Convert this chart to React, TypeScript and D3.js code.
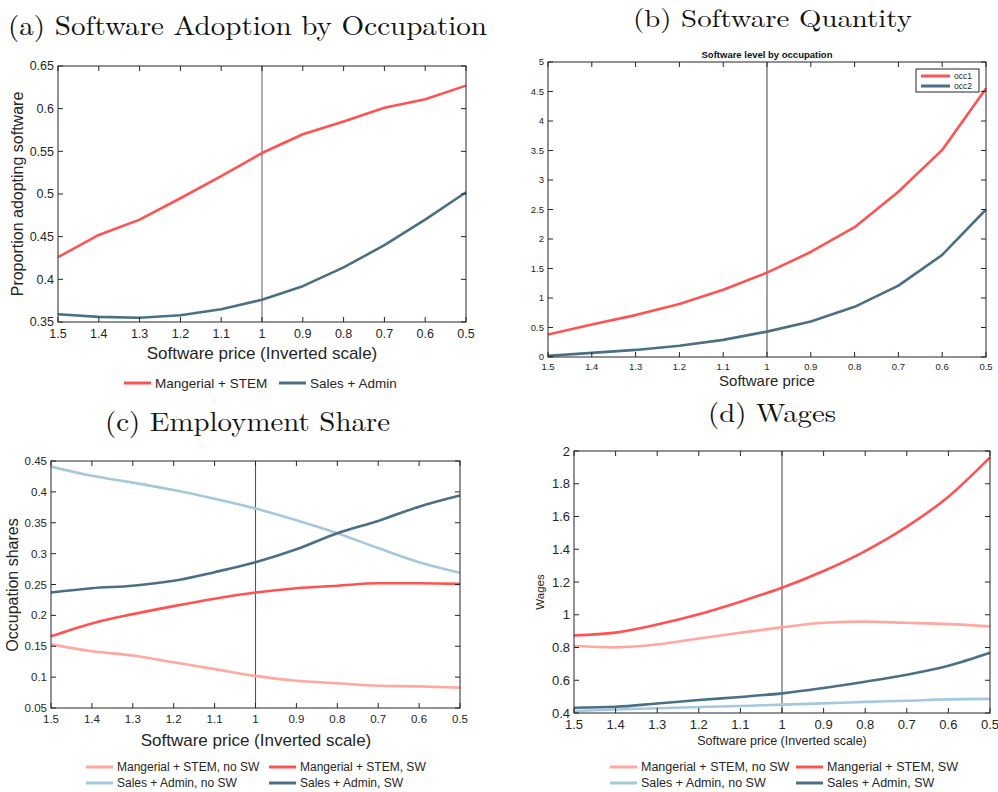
import React from "react";
import * as d3 from "d3";

// ---------- data ----------
const PRICES = [1.5, 1.4, 1.3, 1.2, 1.1, 1.0, 0.9, 0.8, 0.7, 0.6, 0.5];

// (a) Software adoption
const adoptMgr = [0.426, 0.452, 0.470, 0.495, 0.521, 0.548, 0.570, 0.585, 0.601, 0.611, 0.627];
const adoptSales = [0.359, 0.356, 0.355, 0.358, 0.365, 0.376, 0.392, 0.414, 0.440, 0.470, 0.502];

// (b) Software quantity
const qtyOcc1 = [0.38, 0.55, 0.71, 0.90, 1.14, 1.43, 1.78, 2.20, 2.80, 3.51, 4.55];
const qtyOcc2 = [0.02, 0.07, 0.12, 0.19, 0.29, 0.43, 0.60, 0.85, 1.21, 1.73, 2.50];

// (c) Employment share
const shMgrNo = [0.153, 0.142, 0.135, 0.124, 0.113, 0.102, 0.094, 0.090, 0.086, 0.085, 0.083];
const shMgrSW = [0.166, 0.187, 0.202, 0.215, 0.227, 0.237, 0.244, 0.248, 0.252, 0.252, 0.251];
const shSalesNo = [0.441, 0.426, 0.415, 0.403, 0.389, 0.373, 0.354, 0.333, 0.309, 0.286, 0.269];
const shSalesSW = [0.237, 0.244, 0.248, 0.256, 0.270, 0.286, 0.307, 0.333, 0.353, 0.376, 0.394];

// (d) Wages
const wMgrNo = [0.809, 0.801, 0.818, 0.855, 0.890, 0.923, 0.951, 0.958, 0.951, 0.943, 0.929];
const wMgrSW = [0.874, 0.891, 0.940, 1.003, 1.080, 1.165, 1.267, 1.389, 1.538, 1.721, 1.961];
const wSalesNo = [0.412, 0.421, 0.429, 0.437, 0.443, 0.451, 0.459, 0.468, 0.475, 0.483, 0.486];
const wSalesSW = [0.432, 0.438, 0.458, 0.479, 0.498, 0.520, 0.553, 0.591, 0.634, 0.689, 0.768];

const X_TICKS = [1.5, 1.4, 1.3, 1.2, 1.1, 1, 0.9, 0.8, 0.7, 0.6, 0.5];
const Y_TICKS_A = [0.35, 0.4, 0.45, 0.5, 0.55, 0.6, 0.65];
const Y_TICKS_B = [0, 0.5, 1, 1.5, 2, 2.5, 3, 3.5, 4, 4.5, 5];
const Y_TICKS_C = [0.05, 0.1, 0.15, 0.2, 0.25, 0.3, 0.35, 0.4, 0.45];
const Y_TICKS_D = [0.4, 0.6, 0.8, 1, 1.2, 1.4, 1.6, 1.8, 2];

const RED = "#ff5252";
const LIGHT_RED = "#ffa89f";
const DARK_BLUE = "#4b6f84";
const LIGHT_BLUE = "#a5c8de";
const AXIS = "#262626";
const SANS = "'Liberation Sans', Arial, sans-serif";
const SERIF = "'Latin Modern Roman', 'DejaVu Serif', 'Liberation Serif', serif";

const fmt = (v: number) => String(+v.toFixed(2));

type Series = { values: number[]; color: string; label: string };

interface PanelProps {
  left: number; right: number; top: number; bottom: number;
  yDomain: [number, number]; yTicks: number[];
  series: Series[];
  tickFont: number; tickLen: number;
  curve?: d3.CurveFactory;
  vColor: string; vWidth: number;
}

function Panel(p: PanelProps) {
  const x = d3.scaleLinear().domain([1.5, 0.5]).range([p.left, p.right]);
  const y = d3.scaleLinear().domain(p.yDomain).range([p.bottom, p.top]);
  const line = d3.line<number>()
    .x((_, i) => x(PRICES[i]))
    .y((d) => y(d))
    .curve(p.curve || d3.curveLinear);
  const L = p.tickLen;
  return (
    <g>
      <defs>
        <clipPath id={`clip-${p.left}-${p.top}`}>
          <rect x={p.left} y={p.top - 2} width={p.right - p.left + 2} height={p.bottom - p.top + 2} />
        </clipPath>
      </defs>
      <line x1={x(1)} x2={x(1)} y1={p.top} y2={p.bottom} stroke={p.vColor} strokeWidth={p.vWidth} />
      <g clipPath={`url(#clip-${p.left}-${p.top})`}>
        {p.series.map((s, i) => (
          <path key={i} d={line(s.values) || ""} fill="none" stroke={s.color} strokeWidth={2.6} strokeLinejoin="round" />
        ))}
      </g>
      <rect x={p.left} y={p.top} width={p.right - p.left} height={p.bottom - p.top} fill="none" stroke={AXIS} strokeWidth={1} />
      {X_TICKS.map((t) => (
        <g key={"x" + t}>
          <line x1={x(t)} x2={x(t)} y1={p.bottom} y2={p.bottom - L} stroke={AXIS} />
          <line x1={x(t)} x2={x(t)} y1={p.top} y2={p.top + L} stroke={AXIS} />
          <text x={x(t)} y={p.bottom + p.tickFont + 3} textAnchor="middle" fontFamily={SANS} fontSize={p.tickFont} fill={AXIS}>{fmt(t)}</text>
        </g>
      ))}
      {p.yTicks.map((t) => (
        <g key={"y" + t}>
          <line x1={p.left} x2={p.left + L} y1={y(t)} y2={y(t)} stroke={AXIS} />
          <line x1={p.right} x2={p.right - L} y1={y(t)} y2={y(t)} stroke={AXIS} />
          <text x={p.left - 4} y={y(t)} dy="0.35em" textAnchor="end" fontFamily={SANS} fontSize={p.tickFont} fill={AXIS}>{fmt(t)}</text>
        </g>
      ))}
    </g>
  );
}

function LegendItem({ x, y, color, label, len, size }: { x: number; y: number; color: string; label: string; len: number; size: number }) {
  return (
    <g>
      <line x1={x} x2={x + len} y1={y} y2={y} stroke={color} strokeWidth={3} />
      <text x={x + len + 4} y={y} dy="0.35em" fontFamily={SANS} fontSize={size} fill={AXIS}>{label}</text>
    </g>
  );
}

export default function App() {
  const curve = d3.curveMonotoneX;
  return (
    <svg width={998} height={792} style={{ position: "absolute", left: 0, top: 0, background: "#fff" }}>
      <rect width={998} height={792} fill="#fff" />
      {/* (a) */}
      <text x={8} y={35} fontFamily={SERIF} fontSize={27} textLength={479} lengthAdjust="spacingAndGlyphs" fill="#111">(a) Software Adoption by Occupation</text>
      <Panel left={58} right={466} top={66} bottom={322} yDomain={[0.35, 0.65]} yTicks={Y_TICKS_A}
        series={[{ values: adoptMgr, color: RED, label: "" }, { values: adoptSales, color: DARK_BLUE, label: "" }]}
        tickFont={12.5} tickLen={5} vColor="#8a8a8a" vWidth={1.4} />
      <text transform="translate(23,194) rotate(-90)" textAnchor="middle" fontFamily={SANS} fontSize={16} fill={AXIS}>Proportion adopting software</text>
      <text x={262} y={359} textAnchor="middle" fontFamily={SANS} fontSize={17} fill={AXIS}>Software price (Inverted scale)</text>
      <LegendItem x={124} y={383} color={RED} label="Mangerial + STEM" len={27} size={13.5} />
      <LegendItem x={279} y={383} color={DARK_BLUE} label="Sales + Admin" len={27} size={13.5} />

      {/* (b) */}
      <text x={633} y={27} fontFamily={SERIF} fontSize={25} textLength={279} lengthAdjust="spacingAndGlyphs" fill="#111">(b) Software Quantity</text>
      <text x={767} y={58} textAnchor="middle" fontFamily={SANS} fontSize={9.5} fontWeight="bold" fill="#111">Software level by occupation</text>
      <Panel left={548} right={986} top={62} bottom={357} yDomain={[0, 5]} yTicks={Y_TICKS_B}
        series={[{ values: qtyOcc1, color: RED, label: "" }, { values: qtyOcc2, color: DARK_BLUE, label: "" }]}
        tickFont={9.5} tickLen={5} vColor="#555" vWidth={1.1} />
      <g>
        <rect x={916} y={69} width={63} height={23} fill="#fff" stroke={AXIS} strokeWidth={1} />
        <LegendItem x={921} y={76} color={RED} label="occ1" len={29} size={8.5} />
        <LegendItem x={921} y={86} color={DARK_BLUE} label="occ2" len={29} size={8.5} />
      </g>
      <text x={767} y={386} textAnchor="middle" fontFamily={SANS} fontSize={15} fill={AXIS}>Software price</text>

      {/* (c) */}
      <text x={105} y={431} fontFamily={SERIF} fontSize={27} textLength={285} lengthAdjust="spacingAndGlyphs" fill="#111">(c) Employment Share</text>
      <Panel left={51} right={460} top={461} bottom={708} yDomain={[0.05, 0.45]} yTicks={Y_TICKS_C}
        series={[
          { values: shMgrNo, color: LIGHT_RED, label: "" },
          { values: shSalesNo, color: LIGHT_BLUE, label: "" },
          { values: shSalesSW, color: DARK_BLUE, label: "" },
          { values: shMgrSW, color: RED, label: "" },
        ]}
        tickFont={11.5} tickLen={5} vColor="#555" vWidth={1.1} curve={curve} />
      <text transform="translate(18,585) rotate(-90)" textAnchor="middle" fontFamily={SANS} fontSize={16} fill={AXIS}>Occupation shares</text>
      <text x={256} y={746} textAnchor="middle" fontFamily={SANS} fontSize={17} fill={AXIS}>Software price (Inverted scale)</text>
      <LegendItem x={86} y={767} color={LIGHT_RED} label="Mangerial + STEM, no SW" len={27} size={12} />
      <LegendItem x={269} y={767} color={RED} label="Mangerial + STEM, SW" len={27} size={12} />
      <LegendItem x={86} y={783} color={LIGHT_BLUE} label="Sales + Admin, no SW" len={27} size={12} />
      <LegendItem x={269} y={783} color={DARK_BLUE} label="Sales + Admin, SW" len={27} size={12} />

      {/* (d) */}
      <text x={708} y={422} fontFamily={SERIF} fontSize={26} textLength={128} lengthAdjust="spacingAndGlyphs" fill="#111">(d) Wages</text>
      <Panel left={574} right={990} top={451} bottom={713} yDomain={[0.4, 2]} yTicks={Y_TICKS_D}
        series={[
          { values: wSalesNo, color: LIGHT_BLUE, label: "" },
          { values: wSalesSW, color: DARK_BLUE, label: "" },
          { values: wMgrNo, color: LIGHT_RED, label: "" },
          { values: wMgrSW, color: RED, label: "" },
        ]}
        tickFont={13} tickLen={5} vColor="#555" vWidth={1.1} curve={curve} />
      <text transform="translate(544,592) rotate(-90)" textAnchor="middle" fontFamily={SANS} fontSize={11.5} fill={AXIS}>Wages</text>
      <text x={782} y={745} textAnchor="middle" fontFamily={SANS} fontSize={12.5} fill={AXIS}>Software price (Inverted scale)</text>
      <LegendItem x={610} y={767} color={LIGHT_RED} label="Mangerial + STEM, no SW" len={27} size={12.5} />
      <LegendItem x={796} y={767} color={RED} label="Mangerial + STEM, SW" len={27} size={12.5} />
      <LegendItem x={610} y={783} color={LIGHT_BLUE} label="Sales + Admin, no SW" len={27} size={12.5} />
      <LegendItem x={796} y={783} color={DARK_BLUE} label="Sales + Admin, SW" len={27} size={12.5} />
    </svg>
  );
}
